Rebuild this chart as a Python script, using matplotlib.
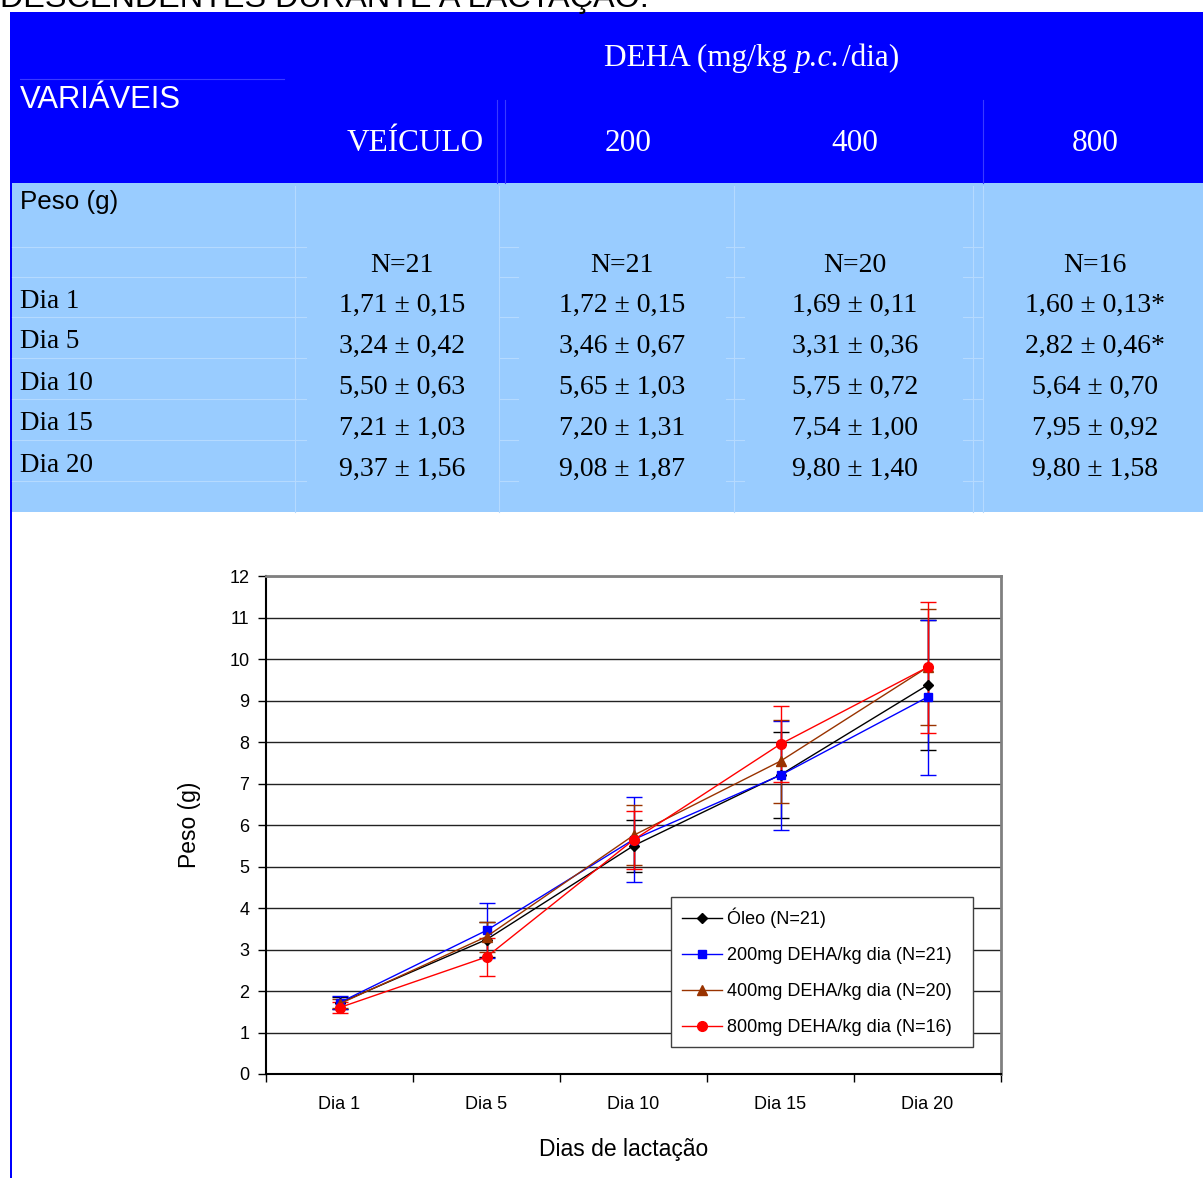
import matplotlib
matplotlib.use("Agg")
import matplotlib.pyplot as plt
from matplotlib.patches import Rectangle

# ---------------- data ----------------
days = ["Dia 1", "Dia 5", "Dia 10", "Dia 15", "Dia 20"]
groups = ["VEÍCULO", "200", "400", "800"]
n_values = [21, 21, 20, 16]
legend_labels = ["Óleo (N=21)", "200mg DEHA/kg dia (N=21)",
                 "400mg DEHA/kg dia (N=20)", "800mg DEHA/kg dia (N=16)"]
mean_veiculo = [1.71, 3.24, 5.50, 7.21, 9.37]
sd_veiculo = [0.15, 0.42, 0.63, 1.03, 1.56]
mean_200 = [1.72, 3.46, 5.65, 7.20, 9.08]
sd_200 = [0.15, 0.67, 1.03, 1.31, 1.87]
mean_400 = [1.69, 3.31, 5.75, 7.54, 9.80]
sd_400 = [0.11, 0.36, 0.72, 1.00, 1.40]
mean_800 = [1.60, 2.82, 5.64, 7.95, 9.80]
sd_800 = [0.13, 0.46, 0.70, 0.92, 1.58]
signif_800 = [True, True, False, False, False]
y_ticks = list(range(0, 13))

means = [mean_veiculo, mean_200, mean_400, mean_800]
sds = [sd_veiculo, sd_200, sd_400, sd_800]
signifs = [[False] * 5, [False] * 5, [False] * 5, signif_800]

colors = ["#000000", "#0000FF", "#993300", "#FF0000"]
markers = ["D", "s", "^", "o"]
msizes = [5.5, 6, 7, 7]

W, H = 1203, 1178
fig = plt.figure(figsize=(W / 100, H / 100), dpi=100)

# ---------------- table (pixel coordinate layer) ----------------
bg = fig.add_axes([0, 0, 1, 1])
bg.set_xlim(0, W)
bg.set_ylim(H, 0)
bg.axis("off")

fig.text(0.0, 1 - 7 / H, "DESCENDENTES DURANTE A LACTAÇÃO.", fontsize=23.3,
         family="Liberation Sans", va="baseline", ha="left", color="black")

BLUE = "#0000FF"
LIGHT = "#99CCFF"
bg.add_patch(Rectangle((12, 12), W - 12, 171, color=BLUE, lw=0))
bg.add_patch(Rectangle((12, 183), W - 12, 329, color=LIGHT, lw=0))
bg.add_patch(Rectangle((10, 12), 2, H - 12, color=BLUE, lw=0))

# faint lines in header
faint_h = "#3A3AFF"
bg.plot([20, 284], [79, 79], color=faint_h, lw=0.8)
for x in [497, 505, 983]:
    bg.plot([x, x], [100, 183], color=faint_h, lw=0.8)

# faint lines in light area
faint_l = "#B5DAFF"
row_lines = [247, 277, 317, 358, 399, 440, 481]
for y in row_lines:
    bg.plot([12, 306], [y, y], color=faint_l, lw=0.8)
    for x0, x1 in [(499, 518), (726, 744), (963, 983)]:
        bg.plot([x0, x1], [y, y], color=faint_l, lw=0.8)
for x in [295, 499, 734, 973, 983]:
    bg.plot([x, x], [186, 512], color=faint_l, lw=0.8)

serif = "Liberation Serif"
sans = "Liberation Sans"
bg.text(20, 100, "VARIÁVEIS", family=sans, fontsize=22.3, color="white",
        ha="left", va="center")

# header "DEHA (mg/kg p.c./dia)" with italic p.c.
renderer = fig.canvas.get_renderer()
parts = [("DEHA (mg/kg ", "normal"), ("p.c.", "italic"), ("/dia)", "normal")]
xcur = 604
for txt, style in parts:
    t = bg.text(xcur, 66, txt, family=serif, style=style, fontsize=22.5,
                color="white", ha="left", va="baseline")
    bb = t.get_window_extent(renderer)
    xcur = bb.x1 + (2 if style == "italic" else 0)

col_x = [402, 622, 855, 1095]
head_x = [415, 628, 855, 1095]
for hx, g in zip(head_x, groups):
    bg.text(hx, 151, g, family=serif, fontsize=22.5, color="white",
            ha="center", va="baseline")

bg.text(20, 202, "Peso (g)", family=sans, fontsize=18.7, color="black",
        ha="left", va="center")

row_y = [298, 339, 380, 421, 462]
for cx, n in zip(col_x, n_values):
    bg.text(cx, 265, f"N={n}", family=serif, fontsize=20, ha="center", va="center")


def fmt(v):
    return f"{v:.2f}".replace(".", ",")


for i, (d, ry) in enumerate(zip(days, row_y)):
    bg.text(20, ry + 3, d, family=serif, fontsize=19.5, ha="left", va="center")
    for cx, m, s, sg in zip(col_x, means, sds, signifs):
        txt = f"{fmt(m[i])} ± {fmt(s[i])}" + ("*" if sg[i] else "")
        bg.text(cx, ry + 7, txt, family=serif, fontsize=20, ha="center", va="center")

# ---------------- chart ----------------
ax = fig.add_axes([266 / W, 1 - 1074 / H, 735 / W, 498 / H])
x = list(range(len(days)))
for m, s, c in zip(means, sds, colors):
    ax.errorbar(x, m, yerr=s, fmt="none", ecolor=c, elinewidth=1.0,
                capsize=5.5, capthick=1.0, zorder=3)
handles = []
for m, c, mk, ms, lab in zip(means, colors, markers, msizes, legend_labels):
    ln, = ax.plot(x, m, color=c, lw=1.0, marker=mk, markersize=ms,
                  markerfacecolor=c, markeredgecolor=c, label=lab, zorder=4)
    handles.append(ln)

ax.set_xlim(-0.5, len(days) - 0.5)
ax.set_ylim(0, 12)
ax.set_yticks(y_ticks)
ax.set_yticklabels([str(t) for t in y_ticks], family=sans, fontsize=13)
ax.set_xticks([i - 0.5 for i in range(len(days) + 1)])
ax.set_xticklabels([])
ax.set_xticks(x, minor=True)
ax.set_xticklabels(days, minor=True, family=sans, fontsize=13)
ax.tick_params(axis="x", which="major", direction="out", length=6, width=1, color="black")
ax.tick_params(axis="x", which="minor", length=0, pad=16)
ax.tick_params(axis="y", direction="out", length=6, width=1, pad=6, color="black")

ax.yaxis.grid(True, color="#222222", lw=1.0, zorder=0)
ax.set_axisbelow(True)
for side in ["left", "bottom"]:
    ax.spines[side].set_color("black")
    ax.spines[side].set_linewidth(1.5)
for side in ["top", "right"]:
    ax.spines[side].set_color("#808080")
    ax.spines[side].set_linewidth(2)

ax.set_ylabel("Peso (g)", family=sans, fontsize=16.5)
ax.yaxis.set_label_coords(-0.088, 0.5)
ax.set_xlabel("Dias de lactação", family=sans, fontsize=16.5)
ax.xaxis.set_label_coords(0.487, -0.128)

leg = ax.legend(handles=handles, loc="center",
                bbox_to_anchor=((671 - 266) / 735, (1074 - 1046) / 498,
                                (973 - 671) / 735, (1046 - 898) / 498),
                mode="expand", prop={"family": sans, "size": 13},
                handlelength=2.2, handletextpad=0.3, labelspacing=1.05,
                borderpad=0.6, borderaxespad=0, fancybox=False, framealpha=1,
                numpoints=1, edgecolor="#404040")
leg.get_frame().set_linewidth(1.0)
leg.set_zorder(10)

fig.savefig("out.png", dpi=100)
